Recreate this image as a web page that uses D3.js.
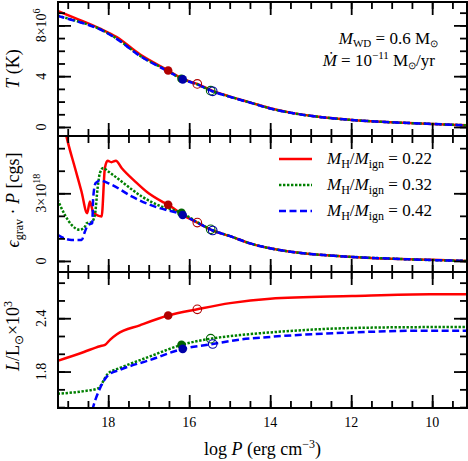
<!DOCTYPE html>
<html>
<head>
<meta charset="utf-8">
<script src="https://cdn.jsdelivr.net/npm/d3@7"></script>
<style>
  body { margin: 0; background: #fff; }
</style>
</head>
<body>
<div id="chart"></div>
<script>
// curves: [log P, value]
// temperature (10^6 K)
var tempRed = [[19.25, 9.13], [18.8, 8.55], [18.2, 7.74], [17.8, 7.1], [17.22, 5.72], [16.52, 4.45],
  [16.16, 3.78], [15.8, 3.39], [15.42, 2.84], [14.99, 2.39], [14.5, 1.94], [14.0, 1.47], [13.5, 1.13],
  [13.01, 0.89], [12.52, 0.71], [11.98, 0.55], [11.0, 0.37], [10.0, 0.24], [9.14, 0.13]];
var tempGreen = [[19.25, 8.76], [18.8, 8.36], [18.2, 7.7], [17.8, 6.98], [17.22, 5.62], [16.52, 4.4],
  [16.19, 3.8], [15.8, 3.36], [15.47, 2.86], [14.99, 2.38], [14.5, 1.93], [14.0, 1.46], [13.5, 1.12],
  [13.01, 0.88], [12.52, 0.7], [11.98, 0.55], [11.0, 0.37], [10.0, 0.24], [9.14, 0.13]];
var tempBlue = [[19.25, 8.74], [18.8, 8.34], [18.2, 7.68], [17.8, 6.96], [17.22, 5.6], [16.52, 4.38],
  [16.16, 3.75], [15.8, 3.35], [15.42, 2.81], [14.99, 2.37], [14.5, 1.92], [14.0, 1.46], [13.5, 1.12],
  [13.01, 0.88], [12.52, 0.7], [11.98, 0.55], [11.0, 0.37], [10.0, 0.24], [9.14, 0.13]];

// eps_grav * P (10^18 cgs)
var epsRed = [[19.1, 6.1], [19.028, 5.5], [18.82, 4.12], [18.66, 3.08], [18.52, 2.12], [18.452, 2.64],
  [18.37, 2.16], [18.163, 1.97], [18.082, 4.12], [18.015, 4.44], [17.92, 4.38], [17.81, 4.44],
  [17.669, 4.12], [17.34, 3.53], [17.011, 3.01], [16.68, 2.64], [16.52, 2.49], [16.16, 2.04],
  [15.8, 1.7], [15.42, 1.35], [14.99, 1.1], [14.5, 0.78], [14.0, 0.56], [13.5, 0.41], [13.01, 0.31],
  [12.52, 0.24], [11.98, 0.18], [11.0, 0.1], [10.0, 0.05], [9.14, 0.0]];
var epsGreen = [[19.25, 2.72], [19.07, 2.04], [18.905, 1.6], [18.7, 1.38], [18.576, 1.52], [18.534, 1.67],
  [18.41, 1.72], [18.329, 2.04], [18.262, 3.23], [18.205, 3.9], [18.124, 4.12], [18.0, 3.97],
  [17.669, 3.52], [17.174, 2.86], [16.68, 2.41], [16.19, 2.13], [15.8, 1.72], [15.47, 1.4],
  [14.99, 1.1], [14.5, 0.78], [14.0, 0.56], [13.5, 0.41], [13.01, 0.31], [12.52, 0.24],
  [11.98, 0.18], [11.0, 0.1], [10.0, 0.04], [9.14, 0.0]];
var epsBlue = [[19.25, 1.16], [18.905, 0.93], [18.657, 0.93], [18.576, 1.3], [18.494, 1.6], [18.395, 1.67],
  [18.371, 2.79], [18.311, 3.45], [18.205, 3.56], [17.916, 3.38], [17.422, 2.86], [16.846, 2.41],
  [16.16, 2.04], [15.8, 1.7], [15.42, 1.35], [14.99, 1.1], [14.5, 0.78], [14.0, 0.56], [13.5, 0.41],
  [13.01, 0.31], [12.52, 0.24], [11.98, 0.18], [11.0, 0.1], [10.0, 0.04], [9.14, 0.0]];

// luminosity (10^-3 Lsun)
var lumRed = [[19.25, 1.92], [18.6, 2.02], [18.205, 2.085], [18.08, 2.1], [17.95, 2.16], [17.785, 2.22],
  [17.22, 2.32], [16.52, 2.43], [15.8, 2.5], [14.99, 2.57], [14.0, 2.62], [11.98, 2.65],
  [10.05, 2.67], [9.14, 2.67]];
var lumGreen = [[19.25, 1.55], [18.6, 1.58], [18.255, 1.61], [18.0, 1.78], [17.71, 1.84], [16.97, 1.97],
  [16.19, 2.1], [15.47, 2.17], [14.75, 2.21], [14.0, 2.24], [11.98, 2.29], [10.05, 2.3], [9.14, 2.3]];
var lumBlue = [[18.45, 1.25], [18.378, 1.39], [18.205, 1.61], [18.0, 1.76], [17.71, 1.82], [16.97, 1.93],
  [16.16, 2.055], [15.42, 2.11], [14.75, 2.16], [14.0, 2.19], [11.98, 2.24], [10.05, 2.26], [9.14, 2.26]];

// markers: red, green, blue
var filledLogP = [16.52, 16.19, 16.16];
var openLogP = [15.8, 15.47, 15.42];
var tempFilled = [4.45, 3.8, 3.75], tempOpen = [3.39, 2.86, 2.81];
var epsFilled = [2.49, 2.13, 2.04], epsOpen = [1.7, 1.4, 1.35];
var lumFilled = [2.43, 2.1, 2.055], lumOpen = [2.5, 2.17, 2.11];

var ratios = ["0.22", "0.32", "0.42"];
var xMajor = [18, 16, 14, 12, 10];
var xMinor = d3.range(9.5, 19.01, 0.5);

// set the dimensions of the figure
var width = 468, height = 461;
var left = 58, right = 467;
var serif = "Liberation Serif";

var svg = d3.select("#chart")
  .append("svg")
    .attr("width", width)
    .attr("height", height);

// every text gets the serif face directly
function addText(parent) {
  return parent.append("text").attr("font-family", serif).attr("fill", "#000");
}

var x = d3.scaleLinear()
  .domain([19.24, 9.14])
  .range([left, right]);

var lineColor = ["#ff0000", "#008000", "#0000ff"];
var dotColor = ["#b00000", "#006400", "#0000a8"];
var dashes = [null, "2.4,1.6", "7,3.5"];

var panels = [
  {top: 2, bottom: 136, domain: [-0.71, 9.84], minor: d3.range(0, 10, 1), major: [0, 4, 8],
   series: [tempRed, tempGreen, tempBlue], filled: tempFilled, open: tempOpen},
  {top: 136, bottom: 272, domain: [-0.49, 5.54], minor: d3.range(0, 6, 1), major: [0, 3],
   series: [epsRed, epsGreen, epsBlue], filled: epsFilled, open: epsOpen},
  {top: 272, bottom: 408, domain: [1.39, 2.92], minor: d3.range(1.4, 2.9, 0.2), major: [1.8, 2.4],
   series: [lumRed, lumGreen, lumBlue], filled: lumFilled, open: lumOpen}
];

var line = d3.line().curve(d3.curveMonotoneX);

panels.forEach(function(p, i) {
  var y = d3.scaleLinear().domain(p.domain).range([p.bottom, p.top]);
  p.y = y;

  svg.append("clipPath").attr("id", "clip" + i)
    .append("rect")
      .attr("x", left).attr("y", p.top)
      .attr("width", right - left).attr("height", p.bottom - p.top);

  var g = svg.append("g").attr("clip-path", "url(#clip" + i + ")");

  line.x(function(d) { return x(d[0]); }).y(function(d) { return y(d[1]); });

  p.series.forEach(function(s, k) {
    g.append("path")
      .attr("d", line(s))
      .attr("fill", "none")
      .attr("stroke", lineColor[k])
      .attr("stroke-width", 2.5)
      .attr("stroke-dasharray", dashes[k]);
  });

  // markers
  [0, 1, 2].forEach(function(k) {
    g.append("circle")
      .attr("cx", x(filledLogP[k])).attr("cy", y(p.filled[k])).attr("r", 4.3)
      .attr("fill", dotColor[k]);
  });
  [0, 1, 2].forEach(function(k) {
    g.append("circle")
      .attr("cx", x(openLogP[k])).attr("cy", y(p.open[k])).attr("r", 4.3)
      .attr("fill", "none")
      .attr("stroke", dotColor[k])
      .attr("stroke-width", 1.1);
  });

  // ticks on all four sides, pointing in
  [[xMinor, 7], [xMajor, 13]].forEach(function(t) {
    svg.append("g").attr("class", "tk").attr("transform", "translate(0," + p.bottom + ")")
      .call(d3.axisBottom(x).tickValues(t[0]).tickSize(-t[1]).tickFormat(""));
    svg.append("g").attr("class", "tk").attr("transform", "translate(0," + p.top + ")")
      .call(d3.axisTop(x).tickValues(t[0]).tickSize(-t[1]).tickFormat(""));
  });
  [[p.minor, 7], [p.major, 13]].forEach(function(t) {
    svg.append("g").attr("class", "tk").attr("transform", "translate(" + left + ",0)")
      .call(d3.axisLeft(y).tickValues(t[0]).tickSize(-t[1]).tickFormat(""));
    svg.append("g").attr("class", "tk").attr("transform", "translate(" + right + ",0)")
      .call(d3.axisRight(y).tickValues(t[0]).tickSize(-t[1]).tickFormat(""));
  });

  svg.append("rect")
    .attr("x", left).attr("y", p.top)
    .attr("width", right - left).attr("height", p.bottom - p.top)
    .attr("fill", "none").attr("stroke", "#000").attr("stroke-width", 2);
});

svg.selectAll(".tk .domain").remove();
svg.selectAll(".tk text").remove();
svg.selectAll(".tk line").attr("stroke", "#000").attr("stroke-width", 1.8);

// rotated y tick labels
function yLabel(p, v, main, sup) {
  var t = addText(svg)
    .attr("transform", "translate(46," + p.y(v) + ") rotate(-90)")
    .attr("text-anchor", "middle")
    .attr("font-size", 14)
    .text(main);
  if (sup) t.append("tspan").attr("dy", -6).attr("font-size", 10).text(sup);
}
yLabel(panels[0], 0, "0");
yLabel(panels[0], 4, "4");
yLabel(panels[0], 8, "8×10", "6");
yLabel(panels[1], 0, "0");
yLabel(panels[1], 3, "3×10", "18");
yLabel(panels[2], 1.8, "1.8");
yLabel(panels[2], 2.4, "2.4");

// x tick labels
xMajor.forEach(function(d) {
  addText(svg)
    .attr("x", x(d))
    .attr("y", 427)
    .attr("text-anchor", "middle")
    .attr("font-size", 14)
    .text(d);
});

// axis titles
var xt = addText(svg)
  .attr("x", (left + right) / 2).attr("y", 455)
  .attr("text-anchor", "middle")
  .attr("font-size", 18);
xt.append("tspan").text("log ");
xt.append("tspan").attr("font-style", "italic").text("P");
xt.append("tspan").text(" (erg cm");
xt.append("tspan").attr("dy", -7).attr("font-size", 12).text("−3");
xt.append("tspan").attr("dy", 7).text(")");

var t1 = addText(svg)
  .attr("transform", "translate(19," + 69 + ") rotate(-90)")
  .attr("text-anchor", "middle").attr("font-size", 18);
t1.append("tspan").attr("font-style", "italic").text("T");
t1.append("tspan").text(" (K)");

var t2 = addText(svg)
  .attr("transform", "translate(19," + 200 + ") rotate(-90)")
  .attr("text-anchor", "middle").attr("font-size", 18);
t2.append("tspan").attr("font-style", "italic").text("ϵ");
t2.append("tspan").attr("dy", 4).attr("font-size", 12).text("grav");
t2.append("tspan").attr("dy", -4).text(" · ");
t2.append("tspan").attr("font-style", "italic").text("P");
t2.append("tspan").text(" [cgs]");

var t3 = addText(svg)
  .attr("transform", "translate(19," + 336 + ") rotate(-90)")
  .attr("text-anchor", "middle").attr("font-size", 18);
t3.append("tspan").attr("font-style", "italic").text("L");
t3.append("tspan").text("/L");
t3.append("tspan").attr("dy", 4).attr("font-size", 12).text("⊙");
t3.append("tspan").attr("dy", -4).text("×10");
t3.append("tspan").attr("dy", -7).attr("font-size", 12).text("3");

// annotation
var a1 = addText(svg)
  .attr("x", 438).attr("y", 44).attr("text-anchor", "end").attr("font-size", 17);
a1.append("tspan").attr("font-style", "italic").text("M");
a1.append("tspan").attr("dy", 3).attr("font-size", 11).text("WD");
a1.append("tspan").attr("dy", -3).text(" = 0.6 M");
a1.append("tspan").attr("dy", 3).attr("font-size", 10).text("⊙");

var a2 = addText(svg)
  .attr("x", 435).attr("y", 66).attr("text-anchor", "end").attr("font-size", 17);
a2.append("tspan").attr("font-style", "italic").text("Ṁ");
a2.append("tspan").text(" = 10");
a2.append("tspan").attr("dy", -7).attr("font-size", 11).text("−11");
a2.append("tspan").attr("dy", 7).text(" M");
a2.append("tspan").attr("dy", 3).attr("font-size", 10).text("⊙");
a2.append("tspan").attr("dy", -3).text("/yr");

// legend
var legY = [159, 185, 211];
ratios.forEach(function(r, k) {
  svg.append("line")
    .attr("x1", 279).attr("x2", 312)
    .attr("y1", legY[k]).attr("y2", legY[k])
    .attr("stroke", lineColor[k]).attr("stroke-width", 2.5)
    .attr("stroke-dasharray", dashes[k]);
  var t = addText(svg)
    .attr("x", 327).attr("y", legY[k] + 5).attr("font-size", 17);
  t.append("tspan").attr("font-style", "italic").text("M");
  t.append("tspan").attr("dy", 4).attr("font-size", 12).text("H");
  t.append("tspan").attr("dy", -4).text("/");
  t.append("tspan").attr("font-style", "italic").text("M");
  t.append("tspan").attr("dy", 4).attr("font-size", 12).text("ign");
  t.append("tspan").attr("dy", -4).text(" = " + r);
});
</script>
</body>
</html>
